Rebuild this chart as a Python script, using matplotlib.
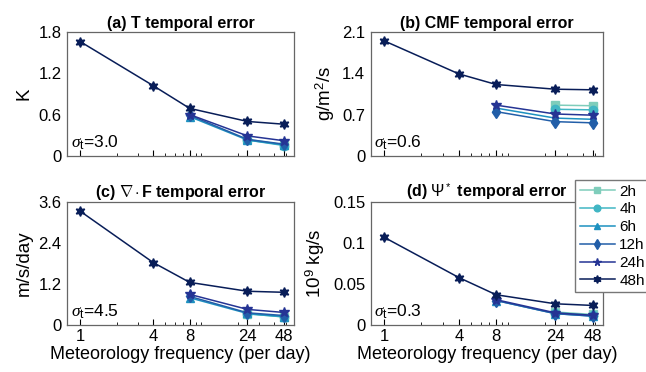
import matplotlib
matplotlib.use('Agg')
import matplotlib.pyplot as plt
from matplotlib.ticker import FixedLocator, NullFormatter

plt.rcParams['font.family'] = ['Liberation Sans', 'DejaVu Sans']
plt.rcParams['mathtext.fontset'] = 'custom'
plt.rcParams['mathtext.rm'] = 'Liberation Sans'
plt.rcParams['mathtext.it'] = 'Liberation Serif:italic'
plt.rcParams['mathtext.bf'] = 'Liberation Sans:bold'

freq_all = [1, 4, 8, 24, 48]
freq_8 = [8, 24, 48]
freq_24 = [24, 48]

labels = ['2h', '4h', '6h', '12h', '24h', '48h']
colors = ['#7fcdbb', '#41b6c4', '#1d91c0', '#225ea8', '#253494', '#081d58']
markers = ['s', 'o', '^', 'd', '*', (6, 1, 0)]
xs = [freq_24, freq_24, freq_8, freq_8, freq_8, freq_all]

# panel (a) T
t_err = [[0.24, 0.16], [0.23, 0.15], [0.57, 0.23, 0.16], [0.59, 0.24, 0.17],
         [0.60, 0.29, 0.22], [1.66, 1.02, 0.69, 0.50, 0.46]]
# panel (b) CMF
cmf_err = [[0.86, 0.85], [0.79, 0.78], [0.81, 0.64, 0.62], [0.75, 0.58, 0.56],
           [0.86, 0.71, 0.69], [1.95, 1.39, 1.21, 1.13, 1.12]]
# panel (c) div F
divf_err = [[0.33, 0.24], [0.33, 0.24], [0.80, 0.34, 0.25], [0.84, 0.36, 0.28],
            [0.90, 0.46, 0.37], [3.33, 1.83, 1.25, 0.99, 0.96]]
# panel (d) psi*
psi_err = [[0.016, 0.013], [0.015, 0.012], [0.030, 0.014, 0.011], [0.030, 0.014, 0.011],
           [0.031, 0.015, 0.012], [0.107, 0.058, 0.037, 0.026, 0.024]]

panels = [
    (t_err, r'(a) T temporal error', 'K', [0, 0.6, 1.2, 1.8], ['0', '0.6', '1.2', '1.8'], 1.8, '3.0'),
    (cmf_err, r'(b) CMF temporal error', r'g/m$^2$/s', [0, 0.7, 1.4, 2.1], ['0', '0.7', '1.4', '2.1'], 2.1, '0.6'),
    (divf_err, r'(c) $\nabla\cdot$F temporal error', 'm/s/day', [0, 1.2, 2.4, 3.6], ['0', '1.2', '2.4', '3.6'], 3.6, '4.5'),
    (psi_err, r'(d) $\Psi^*$ temporal error', r'10$^9$ kg/s', [0, 0.05, 0.1, 0.15], ['0', '0.05', '0.1', '0.15'], 0.15, '0.3'),
]

positions = [[0.104, 0.581, 0.351, 0.333], [0.574, 0.581, 0.359, 0.333],
             [0.104, 0.126, 0.351, 0.331], [0.574, 0.126, 0.359, 0.331]]

fig = plt.figure(figsize=(6.46, 3.72), dpi=100)
for i, (data, title, ylab, yt, ytl, ymax, sig) in enumerate(panels):
    ax = fig.add_axes(positions[i])
    for k in range(6):
        ax.plot(xs[k], data[k], color=colors[k], marker=markers[k], lw=1.1,
                ms=6 if k < 4 else 7, label=labels[k])
    ax.set_xscale('log')
    ax.set_xlim(0.78, 58)
    ax.set_ylim(0, ymax)
    ax.xaxis.set_major_locator(FixedLocator(freq_all))
    ax.xaxis.set_minor_locator(FixedLocator([2, 3, 5, 6, 7, 9, 10, 20, 30, 40, 50]))
    ax.xaxis.set_minor_formatter(NullFormatter())
    if i >= 2:
        ax.set_xticklabels([str(f) for f in freq_all])
        ax.set_xlabel('Meteorology frequency (per day)', fontsize=13, labelpad=1)
    else:
        ax.set_xticklabels([])
    ax.set_yticks(yt)
    ax.set_yticklabels(ytl)
    ax.tick_params(axis='x', which='major', direction='in', length=4, labelsize=12, pad=3, top=False)
    ax.tick_params(axis='x', which='minor', direction='in', length=2.5, top=False)
    ax.tick_params(axis='y', length=0, labelsize=12, pad=4)
    ax.set_ylabel(ylab, fontsize=13.5, labelpad=4)
    ax.set_title(title, fontsize=11.5, fontweight='bold', pad=3)
    for s in ax.spines.values():
        s.set_color('#666666')
        s.set_linewidth(0.9)
    ax.text(0.015, 0.07, r'$\sigma_{\rm t}$=' + sig, transform=ax.transAxes, fontsize=12.5)
    if i == 3:
        ax.legend(loc='upper left', bbox_to_anchor=(0.89, 0.516), bbox_transform=fig.transFigure,
                  fancybox=False, edgecolor='#777777', framealpha=1, fontsize=11,
                  handlelength=2.3, handletextpad=0.3, labelspacing=0.25, borderpad=0.3,
                  markerscale=0.8, borderaxespad=0)

fig.savefig('out.png', dpi=100)
